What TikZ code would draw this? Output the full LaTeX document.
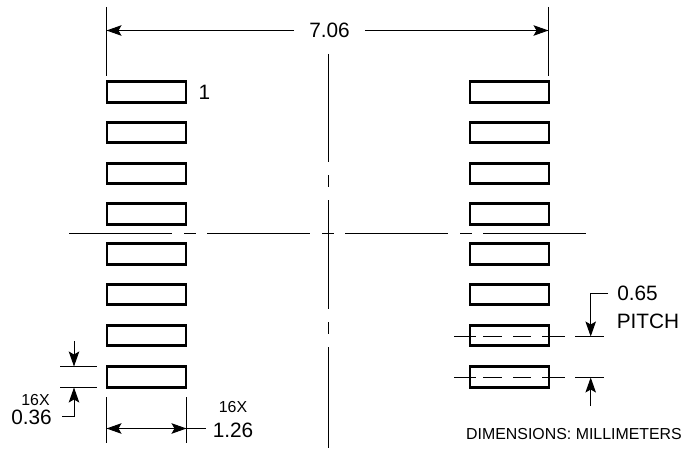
\documentclass[tikz,border=0pt]{standalone}
\usepackage{fontspec}
\setmainfont{Liberation Sans}
\usetikzlibrary{arrows.meta}

\tikzset{
  padbox/.style={draw, line width=2.7pt, minimum width=79pt, minimum height=20.5pt, inner sep=0pt, outer sep=0pt},
  thinline/.style={line width=1pt},
  dimarrow/.style={line width=1pt, -{Stealth[length=15pt, width=10.5pt, inset=3pt]}},
  centerh/.style={line width=1pt, dash pattern=on 103pt off 12pt on 12pt off 11pt},
  centerv/.style={line width=1.1pt, dash pattern=on 108pt off 13.5pt on 11.5pt off 13.5pt},
  hiddenh/.style={line width=1pt, dash pattern=on 22pt off 7pt on 19pt off 11pt on 18pt off 11pt on 23pt off 100pt},
  bigtext/.style={inner sep=0pt, text height=14.8pt, text depth=0pt, font=\fontsize{20.8}{24}\selectfont},
  smalltext/.style={inner sep=0pt, text height=11.4pt, text depth=0pt, font=\fontsize{15.9}{18}\selectfont}
}

\begin{document}
\begin{tikzpicture} [x=1pt, y=-1pt]
\useasboundingbox (0,0) rectangle (683,449);

% the left pads
\node [padbox] (L1) at (146.5,92) {};
\node [padbox] (L2) at (146.5,132.5) {};
\node [padbox] (L3) at (146.5,173.5) {};
\node [padbox] (L4) at (146.5,214) {};
\node [padbox] (L5) at (146.5,254) {};
\node [padbox] (L6) at (146.5,294.5) {};
\node [padbox] (L7) at (146.5,335.5) {};
\node [padbox] (L8) at (146.5,377) {};

% the right pads
\node [padbox] (R1) at (509.5,92) {};
\node [padbox] (R2) at (509.5,132.5) {};
\node [padbox] (R3) at (509.5,173.5) {};
\node [padbox] (R4) at (509.5,214) {};
\node [padbox] (R5) at (509.5,254) {};
\node [padbox] (R6) at (509.5,294.5) {};
\node [padbox] (R7) at (509.5,335.5) {};
\node [padbox] (R8) at (509.5,377) {};

% the center lines
\draw [centerh] (69,233.5) -- (586,233.5);
\draw [centerv] (328.4,54) -- (328.4,448);

% the overall width
\coordinate (topLa) at (106.5,7);
\coordinate (topLb) at (106.5,76);
\coordinate (topLc) at (106.5,30.5);
\coordinate (topRa) at (548.5,7);
\coordinate (topRb) at (548.5,76);
\coordinate (topRc) at (548.5,30.5);
\draw [thinline] (topLa) -- (topLb);
\draw [thinline] (topRa) -- (topRb);
\node [bigtext, inner xsep=15pt] (width706) at (329.5,30.5) {7.06};
\draw [dimarrow] (width706) -- (topLc);
\draw [dimarrow] (width706) -- (topRc);

% the pin number
\node [bigtext] (pin1) at (204.5,92) {1};

% the pad height
\coordinate (hgtAa) at (60,366.5);
\coordinate (hgtAb) at (97,366.5);
\coordinate (hgtBa) at (60,387.5);
\coordinate (hgtBb) at (97,387.5);
\coordinate (hgtAc) at (74,341);
\coordinate (hgtAd) at (74,366.5);
\coordinate (hgtBc) at (74,387.5);
\coordinate (hgtBd) at (62,416);
\draw [thinline] (hgtAa) -- (hgtAb);
\draw [thinline] (hgtBa) -- (hgtBb);
\draw [dimarrow] (hgtAc) -- (hgtAd);
\draw [dimarrow] (hgtBd) -| (hgtBc);
\node [smalltext] (hgtX) at (35.5,399.5) {16X};
\node [bigtext] (hgt036) at (31.5,417.5) {0.36};

% the pad width
\coordinate (wdtLa) at (106.5,397);
\coordinate (wdtLb) at (106.5,443);
\coordinate (wdtLc) at (106.5,428.5);
\coordinate (wdtRa) at (186.5,397);
\coordinate (wdtRb) at (186.5,443);
\coordinate (wdtRc) at (186.5,428.5);
\coordinate (wdtMid) at (146.5,428.5);
\coordinate (wdtEnd) at (206,428.5);
\draw [thinline] (wdtLa) -- (wdtLb);
\draw [thinline] (wdtRa) -- (wdtRb);
\draw [dimarrow] (wdtMid) -- (wdtLc);
\draw [dimarrow] (wdtMid) -- (wdtRc);
\draw [thinline] (wdtRc) -- (wdtEnd);
\node [smalltext] (wdtX) at (233,406.5) {16X};
\node [bigtext] (wdt126) at (233,430) {1.26};

% the pitch
\draw [hiddenh] (454,336.5) -- (565,336.5);
\draw [hiddenh] (454,377.5) -- (565,377.5);
\coordinate (ptcAa) at (575,336.5);
\coordinate (ptcAb) at (604,336.5);
\coordinate (ptcBa) at (575,377.5);
\coordinate (ptcBb) at (604,377.5);
\coordinate (ptcAc) at (608,293.5);
\coordinate (ptcAd) at (590.7,336.5);
\coordinate (ptcBc) at (590.7,406);
\coordinate (ptcBd) at (590.7,377.5);
\draw [thinline] (ptcAa) -- (ptcAb);
\draw [thinline] (ptcBa) -- (ptcBb);
\draw [dimarrow] (ptcAc) -| (ptcAd);
\draw [dimarrow] (ptcBc) -- (ptcBd);
\node [bigtext] (ptc065) at (637.5,293.5) {0.65};
\node [bigtext] (ptcText) at (648,321) {PITCH};

% the units
\node [smalltext] (units) at (574,433.5) {DIMENSIONS: MILLIMETERS};

\end{tikzpicture}
\end{document}
